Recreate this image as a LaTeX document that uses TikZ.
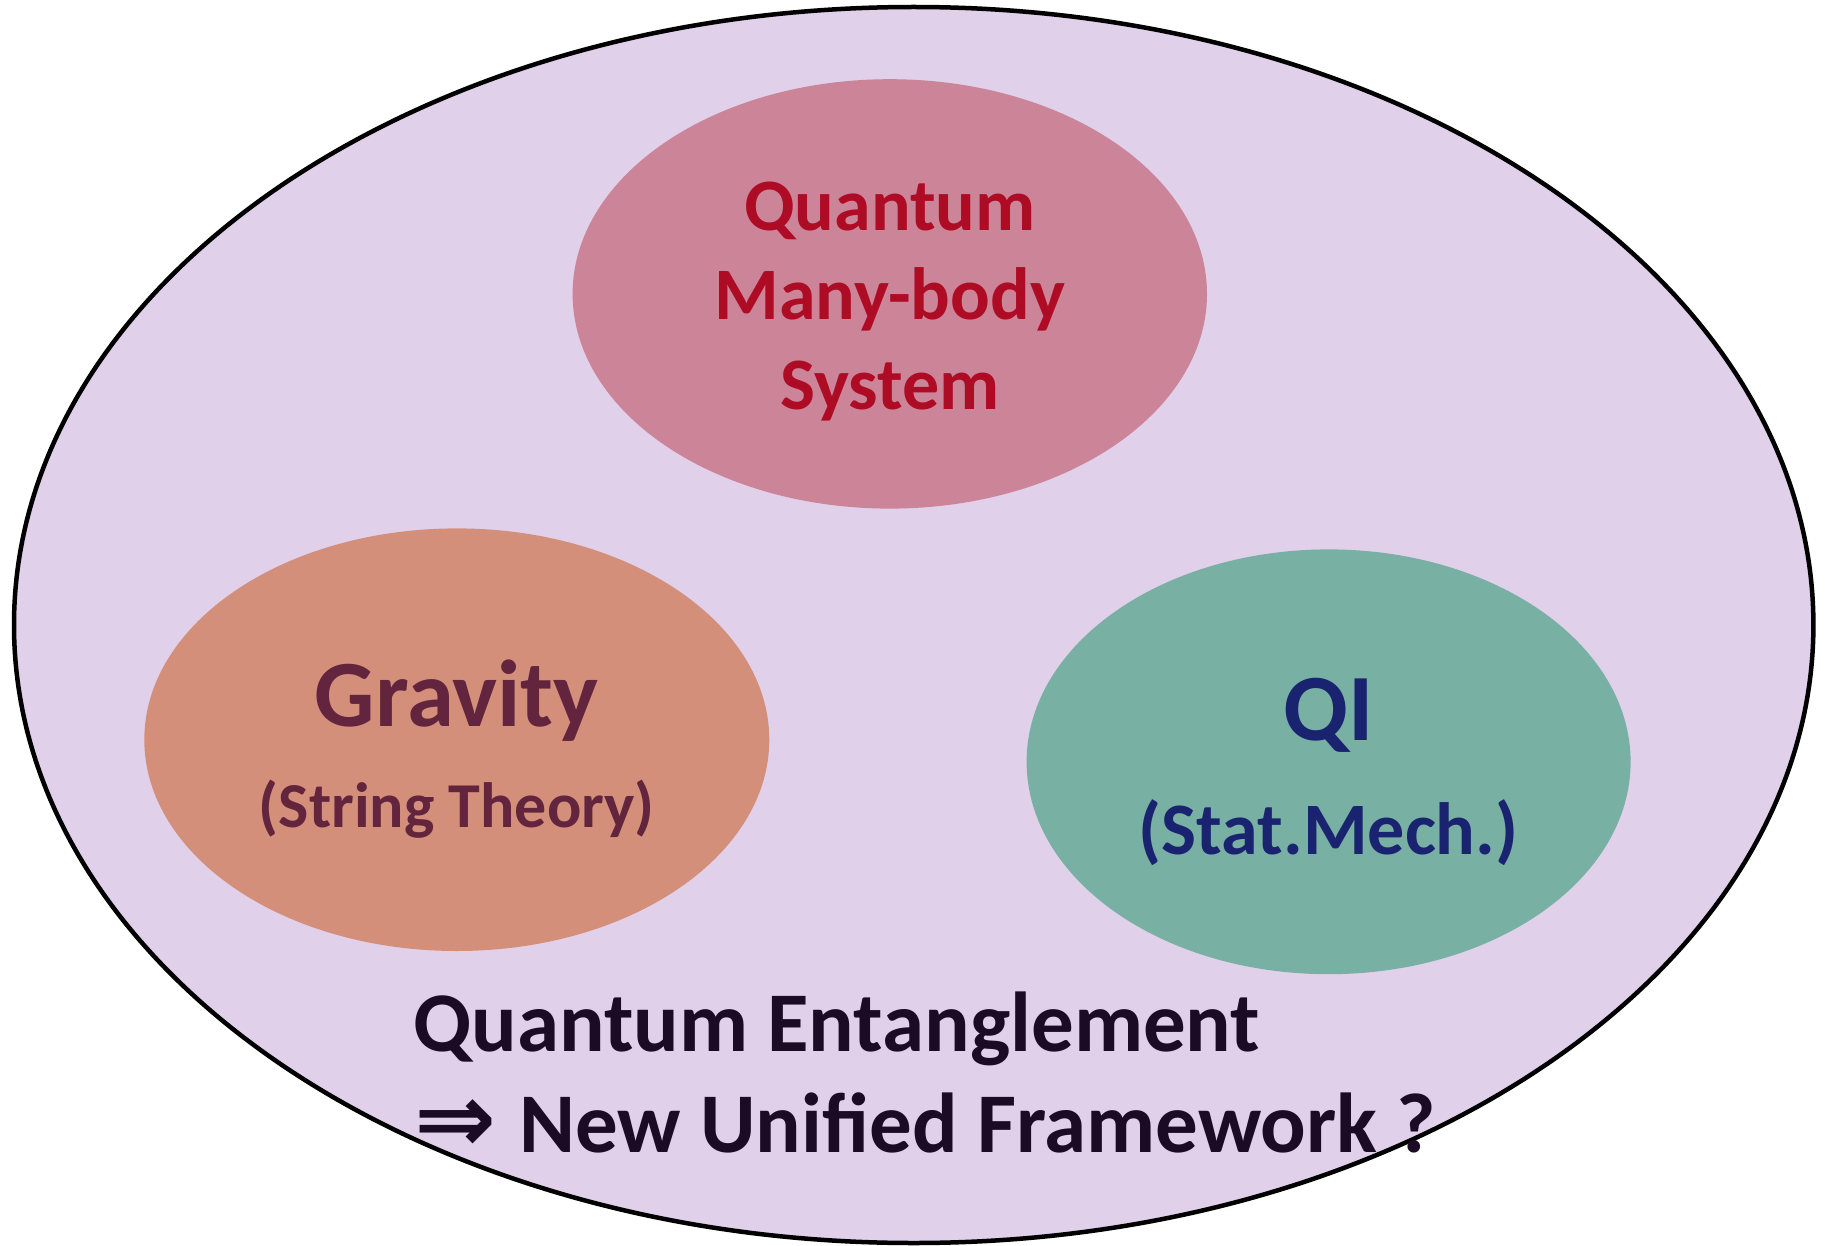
\documentclass[tikz,border=0pt]{standalone}
\usepackage{fontspec}
\setmainfont{Carlito}
\newfontfamily\arrowfont{DejaVu Sans}
\usetikzlibrary{shapes.geometric}
\definecolor{bgl}{HTML}{E0D0EA}
\definecolor{qfill}{HTML}{CC8499}
\definecolor{qtext}{HTML}{AE0B25}
\definecolor{gfill}{HTML}{D48F7B}
\definecolor{gtext}{HTML}{63253D}
\definecolor{ifill}{HTML}{78B0A3}
\definecolor{itext}{HTML}{1A2370}
\definecolor{btext}{HTML}{1B0B25}
\tikzset{
  blob/.style={ellipse, draw=none, inner sep=0pt},
  lbl/.style={anchor=base, inner sep=0pt, font=\bfseries},
}
\newcommand{\fsz}[1]{\fontsize{#1}{#1}\selectfont}
\begin{document}
\begin{tikzpicture}[x=1pt,y=-1pt]
\useasboundingbox[fill=white] (0,0) rectangle (1825,1246);
\node[ellipse, draw=black, line width=4.5pt, fill=bgl, minimum width=1799.4pt, minimum height=1236pt, inner sep=0pt] (outer) at (913.7,625) {};
\node[blob, fill=qfill, minimum width=634.4pt, minimum height=429.4pt] (qmb) at (889.8,293.9) {};
\node[blob, fill=gfill, minimum width=625pt, minimum height=422.6pt] (grav) at (456.8,739.7) {};
\node[blob, fill=ifill, minimum width=604pt, minimum height=424.8pt] (qi) at (1328.6,761.8) {};
\node[lbl, text=qtext, font=\bfseries\fsz{74}] (q1) at (889.8,231) {Quantum};
\node[lbl, text=qtext, font=\bfseries\fsz{74}] (q2) at (889.8,320) {Many-body};
\node[lbl, text=qtext, font=\bfseries\fsz{74}] (q3) at (889.8,409.5) {System};
\node[lbl, text=gtext, font=\bfseries\fsz{95}] (g1) at (456.8,726.5) {Gravity};
\node[lbl, text=gtext, font=\bfseries\fsz{64}] (g2) at (456.8,827) {(String Theory)};
\node[lbl, text=itext, font=\bfseries\fsz{95}] (i1) at (1328.6,740) {QI};
\node[lbl, text=itext, font=\bfseries\fsz{74}] (i2) at (1328.6,854) {(Stat.Mech.)};
\node[lbl, anchor=base west, text=btext, font=\bfseries\fsz{85}] (b1) at (413,1051) {Quantum Entanglement};
\node[lbl, anchor=base west, text=btext, font=\bfseries\fsz{85}] (b2) at (414,1152) {{\arrowfont\bfseries\fsz{98}⇒}\hspace{4pt} New Unified Framework ?};
\end{tikzpicture}
\end{document}
